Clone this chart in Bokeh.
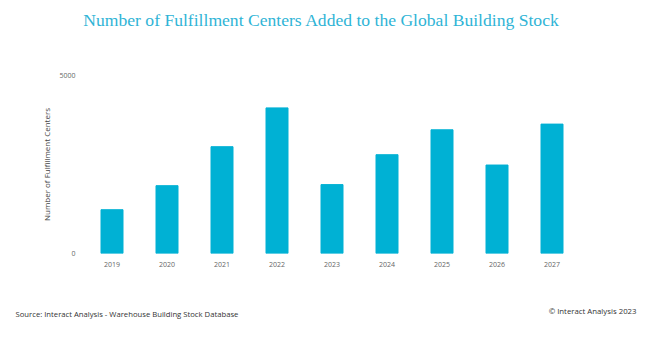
from bokeh.plotting import figure
from bokeh.models import Label, Range1d, FixedTicker
from bokeh.layouts import column
from bokeh.embed import file_html
from bokeh.resources import INLINE

years = ["2019", "2020", "2021", "2022", "2023", "2024", "2025", "2026", "2027"]
centers = [1230, 1905, 3000, 4090, 1935, 2775, 3475, 2485, 3635]
y_ticks = [0, 5000]

title_text = "Number of Fulfillment Centers Added to the Global Building Stock"
source_text = "Source: Interact Analysis - Warehouse Building Stock Database"
copyright_text = "\u00a9 Interact Analysis 2023"
y_label = "Number of Fulfillment Centers"

W, H_HEAD, H_MAIN, H_FOOT = 645, 40, 250, 60


def strip(height):
    s = figure(width=W, height=height, x_range=Range1d(0, W), y_range=Range1d(0, height),
               output_backend="svg", toolbar_location=None,
               x_axis_location=None, y_axis_location=None,
               min_border=0, min_border_left=0, min_border_right=0,
               min_border_top=0, min_border_bottom=0)
    try:
        s.frame_align = False
    except Exception:
        pass
    s.grid.visible = False
    s.outline_line_color = None
    s.background_fill_color = "white"
    s.border_fill_color = "white"
    return s


head = strip(H_HEAD)
head.add_layout(Label(x=321, y=H_HEAD - 19, x_units="screen", y_units="screen", text=title_text,
                      text_font="Liberation Serif", text_font_size="17.6px", text_color="#2FB4D6",
                      text_align="center", text_baseline="middle"))

p = figure(width=W, height=H_MAIN, x_range=years, y_range=Range1d(0, 5000),
           output_backend="svg", toolbar_location=None,
           min_border_left=84, min_border_right=66, min_border_top=75 - H_HEAD, min_border_bottom=37)
p.outline_line_color = None
p.background_fill_color = "white"
p.border_fill_color = "white"

p.vbar(x=years, top=centers, width=0.4, color="#00B1D4")

p.xgrid.grid_line_color = None
p.ygrid.ticker = FixedTicker(ticks=y_ticks)
p.ygrid.grid_line_color = "#eeeeee"
p.ygrid.grid_line_width = 1

p.yaxis.ticker = FixedTicker(ticks=y_ticks)
p.yaxis.axis_line_color = None
p.yaxis.major_tick_line_color = None
p.yaxis.minor_tick_line_color = None
p.yaxis.major_label_text_font = "Open Sans"
p.yaxis.major_label_text_font_size = "7px"
p.yaxis.major_label_text_color = "#666666"
p.yaxis.major_label_standoff = 3
p.yaxis.axis_label = y_label
p.yaxis.axis_label_text_font = "Open Sans"
p.yaxis.axis_label_text_font_style = "normal"
p.yaxis.axis_label_text_font_size = "8px"
p.yaxis.axis_label_text_color = "#444444"
p.yaxis.axis_label_standoff = 4

p.xaxis.axis_line_color = None
p.xaxis.major_tick_line_color = None
p.xaxis.minor_tick_line_color = None
p.xaxis.major_label_text_font = "Open Sans"
p.xaxis.major_label_text_font_size = "7px"
p.xaxis.major_label_text_color = "#666666"
p.xaxis.major_label_standoff = 2

foot = strip(H_FOOT)
foot.add_layout(Label(x=15, y=H_FOOT - 23, x_units="screen", y_units="screen", text=source_text,
                      text_font="Open Sans", text_font_size="7.7px", text_color="#333333",
                      text_align="left", text_baseline="middle"))
foot.add_layout(Label(x=636, y=H_FOOT - 20, x_units="screen", y_units="screen", text=copyright_text,
                      text_font="Open Sans", text_font_size="7.8px", text_color="#333333",
                      text_align="right", text_baseline="middle"))

layout = column(head, p, foot, spacing=0)
open("out.html", "w").write(file_html(layout, INLINE))
